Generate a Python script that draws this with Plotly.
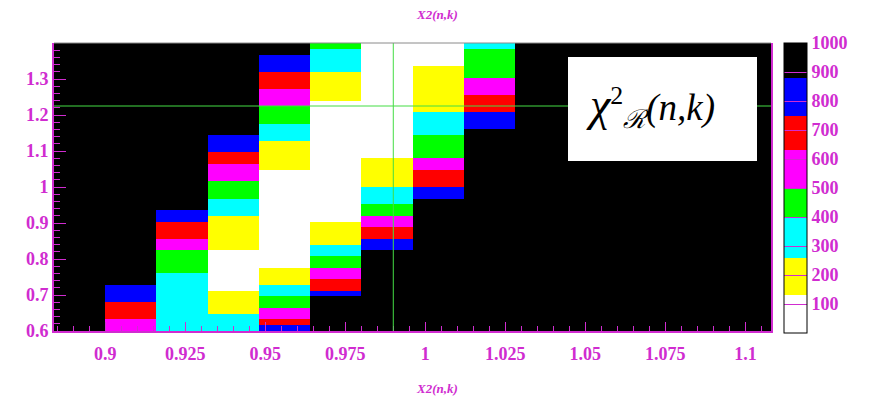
import numpy as np
import plotly.graph_objects as go

# ---------------- data ----------------
# x bin edges (n) and y range (k) of the 2D histogram
x_edges = [0.884, 0.900, 0.916, 0.932, 0.948, 0.964, 0.980, 0.996,
           1.012, 1.028, 1.044, 1.060, 1.076, 1.092, 1.108]
y_min, y_max, n_ybins = 0.6, 1.4, 50

# representative chi2 values of the colour levels
W, Y, C, G, M, R, B, K = 60, 195, 330, 450, 565, 690, 815, 950

# per-column runs, from the bottom bin upward: (number of y bins, chi2)
col_0884 = [(50, K)]
col_0900 = [(2, M), (3, R), (3, B), (42, K)]
col_0916 = [(10, C), (4, G), (2, M), (3, R), (2, B), (29, K)]
col_0932 = [(3, C), (4, Y), (7, W), (6, Y), (3, C), (3, G), (3, M), (2, R), (3, B), (16, K)]
col_0948 = [(1, B), (1, R), (2, M), (2, G), (2, C), (3, Y), (17, W), (5, Y), (3, C),
            (3, G), (3, M), (3, R), (3, B), (2, K)]
col_0964 = [(6, K), (1, B), (2, R), (2, M), (2, G), (2, C), (4, Y), (21, W), (5, Y), (4, C), (1, G)]
col_0980 = [(14, K), (2, B), (2, R), (2, M), (2, G), (3, C), (5, Y), (20, W)]
col_0996 = [(23, K), (2, B), (3, R), (2, M), (4, G), (4, C), (8, Y), (4, W)]
col_1012 = [(35, K), (3, B), (3, R), (3, M), (5, G), (1, C)]
col_1028 = [(50, K)]
col_1044 = [(50, K)]
col_1060 = [(50, K)]
col_1076 = [(50, K)]
col_1092 = [(50, K)]

columns = [col_0884, col_0900, col_0916, col_0932, col_0948, col_0964, col_0980,
           col_0996, col_1012, col_1028, col_1044, col_1060, col_1076, col_1092]

# colour levels of the palette (chi2 boundaries) and colours
level_bounds = [0, 130, 260, 395, 500, 630, 750, 880, 1000]
level_colors = ["#ffffff", "#ffff00", "#00ffff", "#00ff00",
                "#ff00ff", "#ff0000", "#0000ff", "#000000"]

# crosshair position
cross_x, cross_y = 0.990, 1.225

x_ticks = [0.9, 0.925, 0.95, 0.975, 1.0, 1.025, 1.05, 1.075, 1.1]
x_ticktext = ["0.9", "0.925", "0.95", "0.975", "1", "1.025", "1.05", "1.075", "1.1"]
y_ticks = [0.6, 0.7, 0.8, 0.9, 1.0, 1.1, 1.2, 1.3]
y_ticktext = ["0.6", "0.7", "0.8", "0.9", "1", "1.1", "1.2", "1.3"]
cb_ticks = [100, 200, 300, 400, 500, 600, 700, 800, 900, 1000]

# ---------------- build ----------------
y_edges = np.linspace(y_min, y_max, n_ybins + 1)
z = np.zeros((n_ybins, len(columns)))
for i, runs in enumerate(columns):
    vals = []
    for n, v in runs:
        vals += [v] * n
    z[:, i] = vals

colorscale = []
for k, col in enumerate(level_colors):
    colorscale.append([level_bounds[k] / 1000, col])
    colorscale.append([level_bounds[k + 1] / 1000, col])

MAG = "#d02cd0"
font_family = "Liberation Serif, DejaVu Serif, serif"

# page offset of the figure (body margin) and target plot area in page pixels
OFF = 8
PX0, PX1, PY0, PY1 = 54, 771, 43, 331
W_FIG, H_FIG = 872 - OFF, 399 - OFF
L, T = PX0 - OFF, PY0 - OFF
R_, Bm = W_FIG - (PX1 - OFF), H_FIG - (PY1 - OFF)
pw, ph = PX1 - PX0, PY1 - PY0


def px(xp):
    return (xp - PX0) / pw


def py(yp):
    return (PY1 - yp) / ph


fig = go.Figure()
fig.add_trace(go.Heatmap(
    x=x_edges, y=y_edges, z=z, zmin=0, zmax=1000,
    colorscale=colorscale, hoverinfo="skip",
    colorbar=dict(
        x=px(784), xanchor="left", xpad=0, ypad=0,
        y=py(333), yanchor="bottom", len=(333 - 43) / ph, lenmode="fraction",
        thickness=23, outlinecolor="#000000", outlinewidth=1,
        tickvals=cb_ticks, ticktext=[str(v) for v in cb_ticks],
        ticks="inside", ticklen=23, tickcolor=MAG, tickwidth=1,
        tickfont=dict(family=font_family, size=18, color=MAG, weight="bold"),
    ),
))

fig.add_vline(x=cross_x, line=dict(color="#44dd44", width=1))
fig.add_hline(y=cross_y, line=dict(color="#44dd44", width=1))

# top frame edge (grey)
fig.add_shape(type="line", xref="paper", yref="paper", x0=0, x1=1, y0=1, y1=1,
              line=dict(color="#8a8a8a", width=1), layer="above")

# white label box
fig.add_shape(type="rect", xref="paper", yref="paper",
              x0=px(568), x1=px(757), y0=py(161), y1=py(57),
              fillcolor="#ffffff", line=dict(width=0), layer="above")
fig.add_annotation(xref="paper", yref="paper",
                   x=px(584), xanchor="left", y=py(106), yanchor="middle",
                   text="<span style='font-size:46px'><i>χ</i></span><sup>2</sup>"
                        "<sub><i>ℛ</i></sub><i>(n,k)</i>",
                   showarrow=False,
                   font=dict(family=font_family, size=37, color="#000000"))

# titles
for yy in [py(15), py(388)]:
    fig.add_annotation(xref="paper", yref="paper", x=px(437), y=yy,
                       xanchor="center", yanchor="middle",
                       text="<i>X2(n,k)</i>", showarrow=False,
                       font=dict(family=font_family, size=13, color=MAG, weight="bold"))

axis_common = dict(showline=True, linecolor=MAG, linewidth=2,
                   showgrid=False, zeroline=False, ticks="inside", tickcolor=MAG,
                   automargin=False,
                   tickfont=dict(family=font_family, size=18, color=MAG, weight="bold"))

fig.update_xaxes(range=[x_edges[0], x_edges[-1]], tickmode="array", mirror=False,
                 tickvals=x_ticks, ticktext=x_ticktext, ticklen=9,
                 ticklabelstandoff=5,
                 minor=dict(tickmode="linear", tick0=0.9, dtick=0.005,
                            ticks="inside", ticklen=5, tickcolor=MAG),
                 **axis_common)
fig.update_yaxes(range=[y_min, y_max], tickmode="array", mirror=True,
                 tickvals=y_ticks, ticktext=y_ticktext, ticklen=12,
                 minor=dict(tickmode="linear", tick0=0.6, dtick=0.02,
                            ticks="inside", ticklen=6, tickcolor=MAG),
                 **axis_common)

fig.update_layout(
    width=W_FIG, height=H_FIG,
    margin=dict(l=L, r=R_, t=T, b=Bm, pad=0, autoexpand=False),
    paper_bgcolor="#ffffff", plot_bgcolor="#000000",
    showlegend=False,
)

fig.write_html("out.html")
